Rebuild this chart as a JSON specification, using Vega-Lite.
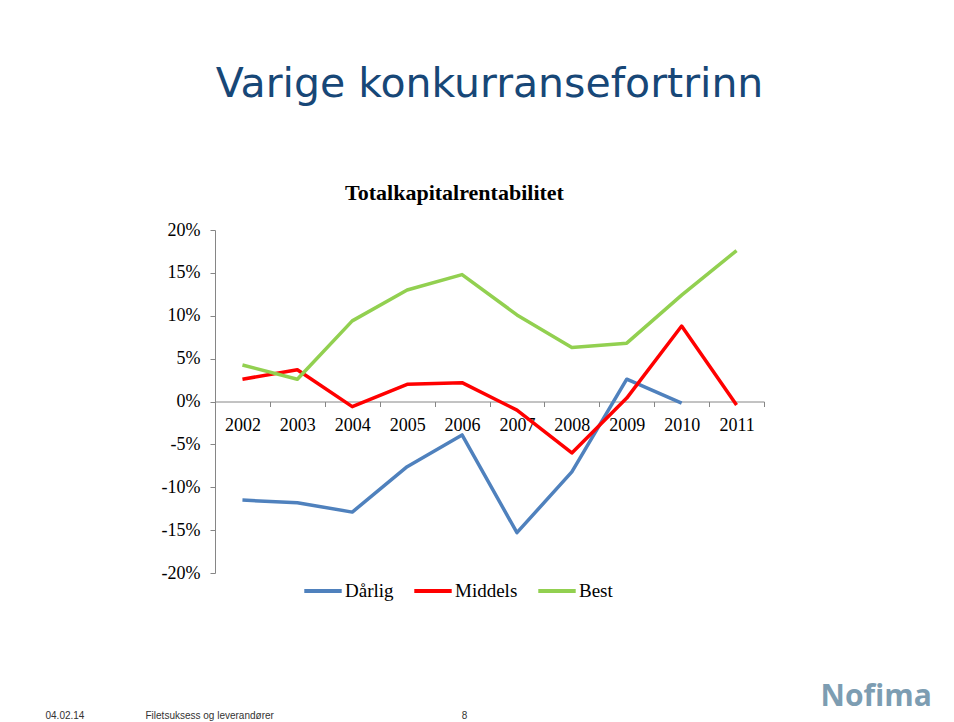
{
  "$schema": "https://vega.github.io/schema/vega-lite/v6.json",
  "width": 549,
  "height": 343,
  "autosize": {"type": "none"},
  "padding": {"left": 215, "top": 230, "right": 190, "bottom": 149},
  "background": "white",
  "config": {"view": {"stroke": null}},
  "title": {
    "text": "Varige konkurransefortrinn",
    "font": "DejaVu Sans",
    "fontSize": 41,
    "fontWeight": "normal",
    "color": "#174777",
    "anchor": "middle",
    "frame": "group",
    "baseline": "alphabetic",
    "offset": 43
  },
  "data": {
    "values": [
      {"year": 2002, "series": "Dårlig", "value": -0.115},
      {"year": 2003, "series": "Dårlig", "value": -0.118},
      {"year": 2004, "series": "Dårlig", "value": -0.129},
      {"year": 2005, "series": "Dårlig", "value": -0.076},
      {"year": 2006, "series": "Dårlig", "value": -0.039},
      {"year": 2007, "series": "Dårlig", "value": -0.153},
      {"year": 2008, "series": "Dårlig", "value": -0.082},
      {"year": 2009, "series": "Dårlig", "value": 0.026},
      {"year": 2010, "series": "Dårlig", "value": -0.002},
      {"year": 2002, "series": "Middels", "value": 0.026},
      {"year": 2003, "series": "Middels", "value": 0.037},
      {"year": 2004, "series": "Middels", "value": -0.006},
      {"year": 2005, "series": "Middels", "value": 0.020},
      {"year": 2006, "series": "Middels", "value": 0.022},
      {"year": 2007, "series": "Middels", "value": -0.010},
      {"year": 2008, "series": "Middels", "value": -0.060},
      {"year": 2009, "series": "Middels", "value": 0.004},
      {"year": 2010, "series": "Middels", "value": 0.088},
      {"year": 2011, "series": "Middels", "value": -0.004},
      {"year": 2002, "series": "Best", "value": 0.0425},
      {"year": 2003, "series": "Best", "value": 0.026},
      {"year": 2004, "series": "Best", "value": 0.094},
      {"year": 2005, "series": "Best", "value": 0.130},
      {"year": 2006, "series": "Best", "value": 0.148},
      {"year": 2007, "series": "Best", "value": 0.101},
      {"year": 2008, "series": "Best", "value": 0.063},
      {"year": 2009, "series": "Best", "value": 0.068},
      {"year": 2010, "series": "Best", "value": 0.124},
      {"year": 2011, "series": "Best", "value": 0.176}
    ]
  },
  "resolve": {"axis": {"x": "independent", "y": "independent"}},
  "layer": [
    {
      "mark": {"type": "line", "strokeWidth": 3.5, "strokeJoin": "round"},
      "encoding": {
        "x": {
          "field": "year",
          "type": "quantitative",
          "scale": {"domain": [2001.5, 2011.5], "nice": false, "zero": false},
          "axis": {
            "orient": "bottom",
            "offset": -171.5,
            "values": [2002, 2003, 2004, 2005, 2006, 2007, 2008, 2009, 2010, 2011],
            "format": "d",
            "ticks": false,
            "grid": false,
            "domain": true,
            "domainColor": "#868686",
            "domainWidth": 1,
            "labelFont": "Liberation Serif",
            "labelFontSize": 18,
            "labelColor": "#000000",
            "labelPadding": 15,
            "labelFlush": false,
            "labelOverlap": false,
            "title": null
          }
        },
        "y": {
          "field": "value",
          "type": "quantitative",
          "scale": {"domain": [-0.2, 0.2], "nice": false, "zero": false},
          "axis": {
            "orient": "left",
            "values": [-0.2, -0.15, -0.1, -0.05, 0, 0.05, 0.1, 0.15, 0.2],
            "labelExpr": "replace(format(datum.value, '.0%'), '\u2212', '-')",
            "grid": false,
            "domainColor": "#868686",
            "tickColor": "#868686",
            "tickSize": 5,
            "labelPadding": 10,
            "labelFont": "Liberation Serif",
            "labelFontSize": 18,
            "labelColor": "#000000",
            "labelFlush": false,
            "labelOverlap": false,
            "title": null
          }
        },
        "color": {
          "field": "series",
          "type": "nominal",
          "scale": {"domain": ["Dårlig", "Middels", "Best"], "range": ["#4f81bd", "#ff0000", "#92d050"]},
          "legend": {
            "orient": "none",
            "legendX": 87,
            "legendY": 340,
            "direction": "horizontal",
            "title": null,
            "symbolType": "stroke",
            "symbolSize": 1400,
            "symbolStrokeWidth": 4,
            "labelFont": "Liberation Serif",
            "labelFontSize": 19,
            "labelColor": "#000000",
            "labelOffset": 1,
            "columnPadding": 12
          }
        }
      }
    },
    {
      "mark": {"type": "line", "opacity": 0},
      "encoding": {
        "x": {
          "field": "year",
          "type": "quantitative",
          "axis": {
            "orient": "bottom",
            "offset": -171.5,
            "values": [2001.5, 2002.5, 2003.5, 2004.5, 2005.5, 2006.5, 2007.5, 2008.5, 2009.5, 2010.5, 2011.5],
            "labels": false,
            "domain": false,
            "grid": false,
            "ticks": true,
            "tickSize": 5,
            "tickColor": "#868686",
            "title": "Filetsuksess og leverandører",
            "titleX": -70,
            "titleY": 313.5,
            "titleAlign": "left",
            "titleBaseline": "middle",
            "titleAngle": 0,
            "titleFont": "Liberation Sans",
            "titleFontSize": 10,
            "titleFontWeight": "normal",
            "titleColor": "#333333"
          }
        },
        "y": {
          "field": "value",
          "type": "quantitative",
          "axis": {
            "orient": "right",
            "labels": false,
            "domain": false,
            "ticks": false,
            "grid": false,
            "title": "Totalkapitalrentabilitet",
            "titleX": -310,
            "titleY": -38,
            "titleAngle": 0,
            "titleAlign": "center",
            "titleBaseline": "middle",
            "titleFont": "Liberation Serif",
            "titleFontSize": 22,
            "titleFontWeight": "bold",
            "titleColor": "#000000"
          }
        },
        "color": {"field": "series", "type": "nominal"}
      }
    },
    {
      "mark": {"type": "line", "opacity": 0},
      "encoding": {
        "x": {
          "field": "year",
          "type": "quantitative",
          "axis": {
            "orient": "bottom",
            "offset": -171.5,
            "labels": false,
            "domain": false,
            "grid": false,
            "ticks": false,
            "title": "04.02.14",
            "titleX": -170,
            "titleY": 313.5,
            "titleAlign": "left",
            "titleBaseline": "middle",
            "titleAngle": 0,
            "titleFont": "Liberation Sans",
            "titleFontSize": 10,
            "titleFontWeight": "normal",
            "titleColor": "#333333"
          }
        },
        "y": {
          "field": "value",
          "type": "quantitative",
          "axis": {
            "orient": "right",
            "labels": false,
            "domain": false,
            "ticks": false,
            "grid": false,
            "title": "8",
            "titleX": -300,
            "titleY": 485,
            "titleAngle": 0,
            "titleAlign": "center",
            "titleBaseline": "middle",
            "titleFont": "Liberation Sans",
            "titleFontSize": 10,
            "titleFontWeight": "normal",
            "titleColor": "#333333"
          }
        },
        "color": {"field": "series", "type": "nominal"}
      }
    },
    {
      "mark": {"type": "line", "opacity": 0},
      "encoding": {
        "x": {
          "field": "year",
          "type": "quantitative",
          "axis": {
            "orient": "bottom",
            "offset": -171.5,
            "labels": false,
            "domain": false,
            "grid": false,
            "ticks": false,
            "title": "Nofima",
            "titleX": 605,
            "titleY": 295,
            "titleAlign": "left",
            "titleBaseline": "middle",
            "titleAngle": 0,
            "titleFont": "Open Sans",
            "titleFontSize": 30,
            "titleFontWeight": "bold",
            "titleColor": "#7d9db2"
          }
        },
        "color": {"field": "series", "type": "nominal"}
      }
    }
  ]
}
